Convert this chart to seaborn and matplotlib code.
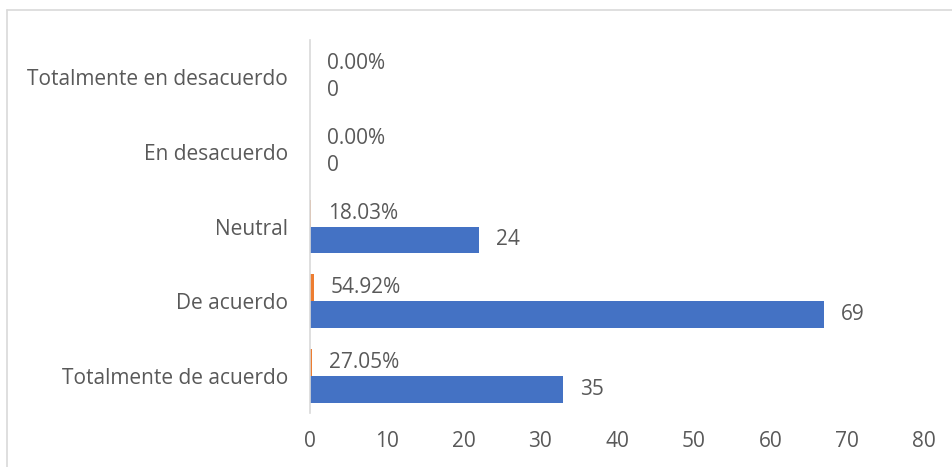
import pandas as pd
import seaborn as sns
import matplotlib.pyplot as plt
from matplotlib.lines import Line2D

categories = ["Totalmente en desacuerdo", "En desacuerdo", "Neutral",
              "De acuerdo", "Totalmente de acuerdo"]
counts = [0, 0, 22, 67, 33]
count_labels = ["0", "0", "24", "69", "35"]
shares = [0.0, 0.0, 0.1803, 0.5492, 0.2705]
share_labels = ["0.00%", "0.00%", "18.03%", "54.92%", "27.05%"]

sns.set_style("white")
plt.rcParams['font.family'] = ['Open Sans', 'DejaVu Sans']
text_color = "#595959"
fs = 15

df = pd.DataFrame({
    "categoria": categories * 2,
    "serie": ["pct"] * len(categories) + ["n"] * len(categories),
    "valor": shares + counts,
})

fig = plt.figure(figsize=(9.52, 4.67), dpi=100)
ax = fig.add_axes([310 / 952, 1 - 413 / 467, 614 / 952, 373 / 467])

sns.barplot(data=df, x="valor", y="categoria", hue="serie", order=categories,
            hue_order=["pct", "n"], palette={"pct": "#ED7D31", "n": "#4472C4"},
            orient="h", width=0.72, dodge=True, legend=False, saturation=1,
            ax=ax, edgecolor="none", linewidth=0)

ax.bar_label(ax.containers[0], labels=share_labels, padding=12,
             fontsize=fs, color=text_color)
ax.bar_label(ax.containers[1], labels=count_labels, padding=12,
             fontsize=fs, color=text_color)

ax.set_xlim(0, 80)
ax.set_ylim(4.5, -0.5)
ax.set_xticks(range(0, 81, 10))
ax.set_xlabel("")
ax.set_ylabel("")
ax.tick_params(axis="both", length=0, labelsize=fs, labelcolor=text_color)
ax.tick_params(axis="x", pad=13)
ax.tick_params(axis="y", pad=16)
for side in ["top", "right", "bottom"]:
    ax.spines[side].set_visible(False)
ax.spines["left"].set_color("#D9D9D9")
ax.spines["left"].set_linewidth(1.2)

# chart area border (only top and left edges are visible in the crop)
fig.add_artist(Line2D([7 / 952, 7 / 952], [0, 1 - 10 / 467],
                      transform=fig.transFigure, color="#D9D9D9", lw=1.2))
fig.add_artist(Line2D([7 / 952, 1], [1 - 10 / 467, 1 - 10 / 467],
                      transform=fig.transFigure, color="#D9D9D9", lw=1.2))

fig.savefig("out.png", dpi=100)
